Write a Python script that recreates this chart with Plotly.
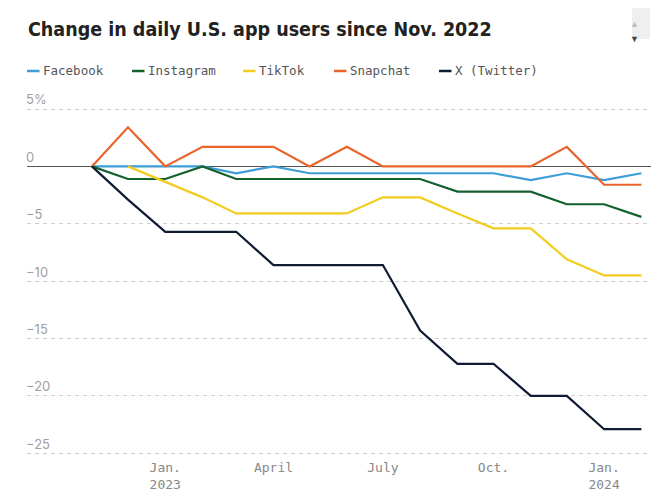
import plotly.graph_objects as go

# ---- data ----
months = ["2022-11-01", "2022-12-01", "2023-01-01", "2023-02-01", "2023-03-01",
          "2023-04-01", "2023-05-01", "2023-06-01", "2023-07-01", "2023-08-01",
          "2023-09-01", "2023-10-01", "2023-11-01", "2023-12-01", "2024-01-01",
          "2024-02-01"]
series_names = ["Facebook", "Instagram", "TikTok", "Snapchat", "X (Twitter)"]
facebook = [0, 0, 0, 0, -0.6, 0, -0.6, -0.6, -0.6, -0.6, -0.6, -0.6, -1.2, -0.6, -1.2, -0.6]
instagram = [0, -1.1, -1.1, 0, -1.1, -1.1, -1.1, -1.1, -1.1, -1.1, -2.2, -2.2, -2.2, -3.3, -3.3, -4.4]
tiktok = [None, 0, -1.35, -2.7, -4.1, -4.1, -4.1, -4.1, -2.7, -2.7, -4.1, -5.4, -5.4, -8.1, -9.5, -9.5]
snapchat = [0, 3.4, 0, 1.7, 1.7, 1.7, 0, 1.7, 0, 0, 0, 0, 0, 1.7, -1.6, -1.6]
twitter = [0, -2.9, -5.7, -5.7, -5.7, -8.6, -8.6, -8.6, -8.6, -14.3, -17.2, -17.2, -20.0, -20.0, -22.9, -22.9]

y_tickvals = [5, 0, -5, -10, -15, -20, -25]
y_ticktext = ["5%", "0", "\u22125", "\u221210", "\u221215", "\u221220", "\u221225"]
x_tickvals = ["2023-01-01", "2023-04-01", "2023-07-01", "2023-10-01", "2024-01-01"]
x_ticktext = ["Jan.<br>2023", "April", "July", "Oct.", "Jan.<br>2024"]

title_text = "Change in daily U.S. app users since Nov. 2022"

# ---- styles ----
colors = ["#3d9dd6", "#14602e", "#f2cd1f", "#e8642a", "#0f1b33"]
legend_x = [27, 132, 243, 334, 439]  # screen x of legend swatches
W, H = 660, 499
OFF = 8  # page body margin offsets the figure on screen
# plot area in screen coordinates
SL, SR, ST, SB = 27, 651, 80, 455
L, T = SL - OFF, ST - OFF
R, B = W - (SR - OFF), H - (SB - OFF)
mono = "DejaVu Sans Mono"


def px(x):  # screen x -> paper
    return (x - SL) / (SR - SL)


def py(y):  # screen y -> paper
    return 1 - (y - ST) / (SB - ST)


fig = go.Figure()
values = [facebook, instagram, tiktok, snapchat, twitter]
for name, vals, col in zip(series_names, values, colors):
    fig.add_trace(go.Scatter(x=months, y=vals, name=name, mode="lines",
                             line=dict(color=col, width=2.2),
                             showlegend=False, hoverinfo="skip"))

# legend built from annotations + short line shapes
for name, col, lx in zip(series_names, colors, legend_x):
    fig.add_shape(type="line", xref="paper", yref="paper",
                  x0=px(lx), x1=px(lx + 12.5), y0=py(71), y1=py(71),
                  line=dict(color=col, width=2.5))
    fig.add_annotation(text=name, xref="paper", yref="paper",
                       x=px(lx + 14), y=py(71),
                       xanchor="left", yanchor="middle", showarrow=False,
                       font=dict(family=mono, size=12.5, color="#555"))

# scroll widget in top-right corner
fig.add_shape(type="rect", xref="paper", yref="paper",
              x0=px(632), x1=px(650), y0=py(39), y1=py(7),
              fillcolor="#efefef", line=dict(width=0))
fig.add_annotation(text="\u25b2", xref="paper", yref="paper",
                   x=px(641), y=py(15), showarrow=False,
                   font=dict(size=9, color="#bdbdbd"))
fig.add_annotation(text="\u25bc", xref="paper", yref="paper",
                   x=px(641), y=py(30), showarrow=False,
                   font=dict(size=9, color="#444"))

fig.update_layout(
    width=W, height=H,
    margin=dict(l=L, r=R, t=T, b=B, autoexpand=False),
    plot_bgcolor="white", paper_bgcolor="white",
    title=dict(text=title_text, x=(28 - OFF) / W, xref="container", xanchor="left",
               y=1 - (29 - OFF) / H, yref="container", yanchor="middle",
               font=dict(family="DejaVu Sans Condensed, Roboto",
                         size=19.5, color="#222", weight="bold")),
    showlegend=False,
)
# pixel scale: 5 at y=109, -25 at y=453.3 (screen)
k = (453.3 - 109) / 30.0
y_top = 5 + (109 - ST) / k
y_bot = -25 - (SB - 453.3) / k
fig.update_xaxes(type="date", range=["2022-09-08", "2024-02-09"],
                 tickvals=x_tickvals, ticktext=x_ticktext, automargin=False,
                 ticklabelstandoff=3,
                 showgrid=False, zeroline=False, showline=False, ticks="",
                 tickfont=dict(family=mono, size=13, color="#888"))
fig.update_yaxes(range=[y_bot, y_top], tickvals=y_tickvals, ticktext=y_ticktext,
                 ticklabelposition="inside top", ticklabelstandoff=-4, automargin=False,
                 showgrid=True, gridcolor="#cfcfcf", griddash="4px,4px", gridwidth=1,
                 zeroline=True, zerolinecolor="#555", zerolinewidth=1,
                 showline=False, ticks="",
                 tickfont=dict(family="Inter", size=13, color="#a0a0a0"))

fig.write_html("out.html")
